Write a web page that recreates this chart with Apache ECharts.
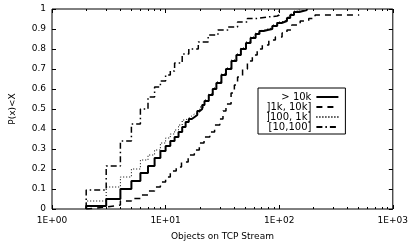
<!DOCTYPE html>
<html>
<head>
<meta charset="utf-8">
<script src="https://cdn.jsdelivr.net/npm/echarts@6/dist/echarts.min.js"></script>
<style>
  html, body { margin: 0; padding: 0; background: #fff; }
  #chart { width: 411px; height: 247px; }
</style>
</head>
<body>
<div id="chart"></div>
<script>
// CDF data, [objects, P(x)<X]
var seriesNames = ['> 10k', ']1k, 10k]', ']100, 1k]', '[10,100]'];

var over10k = [[2,0],[2,0.015],[3,0.05],[4,0.10],[5,0.14],[6,0.18],[7,0.215],[8,0.255],[9,0.29],
  [10,0.315],[11,0.34],[12,0.36],[13,0.385],[14,0.41],[15,0.435],[16,0.45],[17,0.46],[18,0.47],
  [19,0.49],[20,0.5],[21,0.52],[22,0.54],[24,0.57],[26,0.6],[28,0.63],[31,0.67],[34,0.70],
  [38,0.74],[42,0.77],[46,0.80],[51,0.83],[56,0.855],[62,0.875],[67,0.89],[73,0.895],[79,0.90],
  [87,0.915],[96,0.93],[105,0.94],[117,0.955],[125,0.97],[135,0.985],[150,0.995],[175,1.0]];

var k1to10k = [[2,0],[2,0.01],[3,0.02],[4,0.04],[5,0.053],[6,0.07],[7,0.09],[8,0.11],[9,0.135],
  [10,0.16],[11,0.19],[12.4,0.21],[13.8,0.235],[15.8,0.27],[17.9,0.295],[19.8,0.33],[21.8,0.36],
  [24.5,0.385],[27,0.42],[30,0.45],[32,0.49],[34,0.525],[37.7,0.58],[40.3,0.62],[43,0.66],
  [47.6,0.70],[52.5,0.74],[58,0.77],[64,0.80],[71,0.82],[81,0.845],[92.5,0.86],[106,0.88],
  [117,0.895],[129,0.92],[153,0.94],[182,0.953],[207,0.97],[506,0.97]];

var h100to1k = [[2,0],[2,0.04],[3,0.11],[4,0.16],[5,0.20],[6,0.245],[7,0.27],[8,0.295],[9,0.33],
  [10,0.355],[11,0.375],[12,0.395],[13,0.42],[14,0.445],[15,0.455],[16,0.465],[17,0.475],
  [18,0.485],[20,0.51],[22,0.545],[24,0.575],[26,0.605],[28,0.635],[31,0.675],[34,0.705],
  [38,0.745],[42,0.775],[46,0.805],[51,0.835],[56,0.86],[62,0.88],[67,0.893],[73,0.9],
  [79,0.905],[87,0.92],[96,0.935],[105,0.945],[117,0.96],[125,0.975],[135,0.99],[150,1.0]];

var t10to100 = [[2,0],[2,0.095],[3,0.215],[4,0.34],[5,0.425],[6,0.50],[7,0.56],[8,0.61],[9,0.64],
  [10,0.67],[11,0.69],[12,0.73],[14,0.775],[16,0.80],[19.4,0.835],[23.7,0.87],[28.9,0.895],
  [35.3,0.91],[43,0.935],[52.5,0.953],[64,0.96],[78.7,0.965],[96,0.97],[100,1.0]];

var xTickLabels = ['1E+00', '1E+01', '1E+02', '1E+03'];
var xMinorTicks = [2,3,4,5,6,7,8,9,20,30,40,50,60,70,80,90,200,300,400,500,600,700,800,900];

var font = 'DejaVu Sans';
var myChart = echarts.init(document.getElementById('chart'));

function logAxis(pos, ticks, len, labels) {
  var ax = {
    type: 'log', logBase: 10, min: 1, max: 1000, position: pos,
    axisLine: { show: false },
    splitLine: { show: false },
    axisTick: { show: true, inside: true, length: len, lineStyle: { color: '#000', width: 1 } },
    axisLabel: { show: false }
  };
  if (ticks) ax.axisTick.customValues = ticks;
  if (labels) {
    ax.axisLabel = {
      show: true, margin: 7, color: '#000', fontFamily: font, fontSize: 9,
      formatter: function (v) { return xTickLabels[Math.round(Math.log10(v))]; }
    };
    ax.name = 'Objects on TCP Stream';
    ax.nameLocation = 'middle';
    ax.nameGap = 23;
    ax.nameTextStyle = { color: '#000', fontFamily: font, fontSize: 9 };
  }
  return ax;
}

function valAxis(pos, labels) {
  var ax = {
    type: 'value', min: 0, max: 1, interval: 0.1, position: pos,
    axisLine: { show: false },
    splitLine: { show: false },
    axisTick: { show: true, inside: true, length: 4, lineStyle: { color: '#000', width: 1 } },
    axisLabel: { show: false }
  };
  if (labels) {
    ax.axisLabel = { show: true, margin: 6, color: '#000', fontFamily: font, fontSize: 9 };
    ax.name = 'P(x)<X';
    ax.nameLocation = 'middle';
    ax.nameGap = 35;
    ax.nameTextStyle = { color: '#000', fontFamily: font, fontSize: 9 };
  }
  return ax;
}

var styles = [
  { type: 'solid', width: 2 },
  { type: [6, 5], width: 1.5 },
  { type: [1, 2], width: 1 },
  { type: [6, 3, 1.5, 3], width: 1.5 }
];
var datasets = [over10k, k1to10k, h100to1k, t10to100];

var option = {
  animation: false,
  grid: { left: 52, right: 14, top: 9, bottom: 38, show: true, borderColor: '#000', borderWidth: 1, backgroundColor: 'transparent' },
  legend: {
    orient: 'vertical', left: 258, top: 88, align: 'right',
    itemWidth: 22, itemHeight: 9, itemGap: 0,
    padding: [4, 6, 2, 8],
    borderColor: '#000', borderWidth: 1,
    itemStyle: { color: 'rgba(0,0,0,0)', borderColor: 'rgba(0,0,0,0)', borderWidth: 0 },
    textStyle: { color: '#000', fontFamily: font, fontSize: 10 },
    data: seriesNames
  },
  xAxis: [
    logAxis('bottom', null, 4, true),
    logAxis('bottom', xMinorTicks, 2, false),
    logAxis('top', null, 4, false),
    logAxis('top', xMinorTicks, 2, false)
  ],
  yAxis: [valAxis('left', true), valAxis('right', false)],
  series: datasets.map(function (d, i) {
    return {
      name: seriesNames[i], type: 'line', step: 'end', symbol: 'none',
      data: d, z: i === 0 ? 5 : 3,
      lineStyle: { color: '#000', type: styles[i].type, width: styles[i].width },
      itemStyle: { color: '#000' }
    };
  })
};

myChart.setOption(option);
</script>
</body>
</html>
